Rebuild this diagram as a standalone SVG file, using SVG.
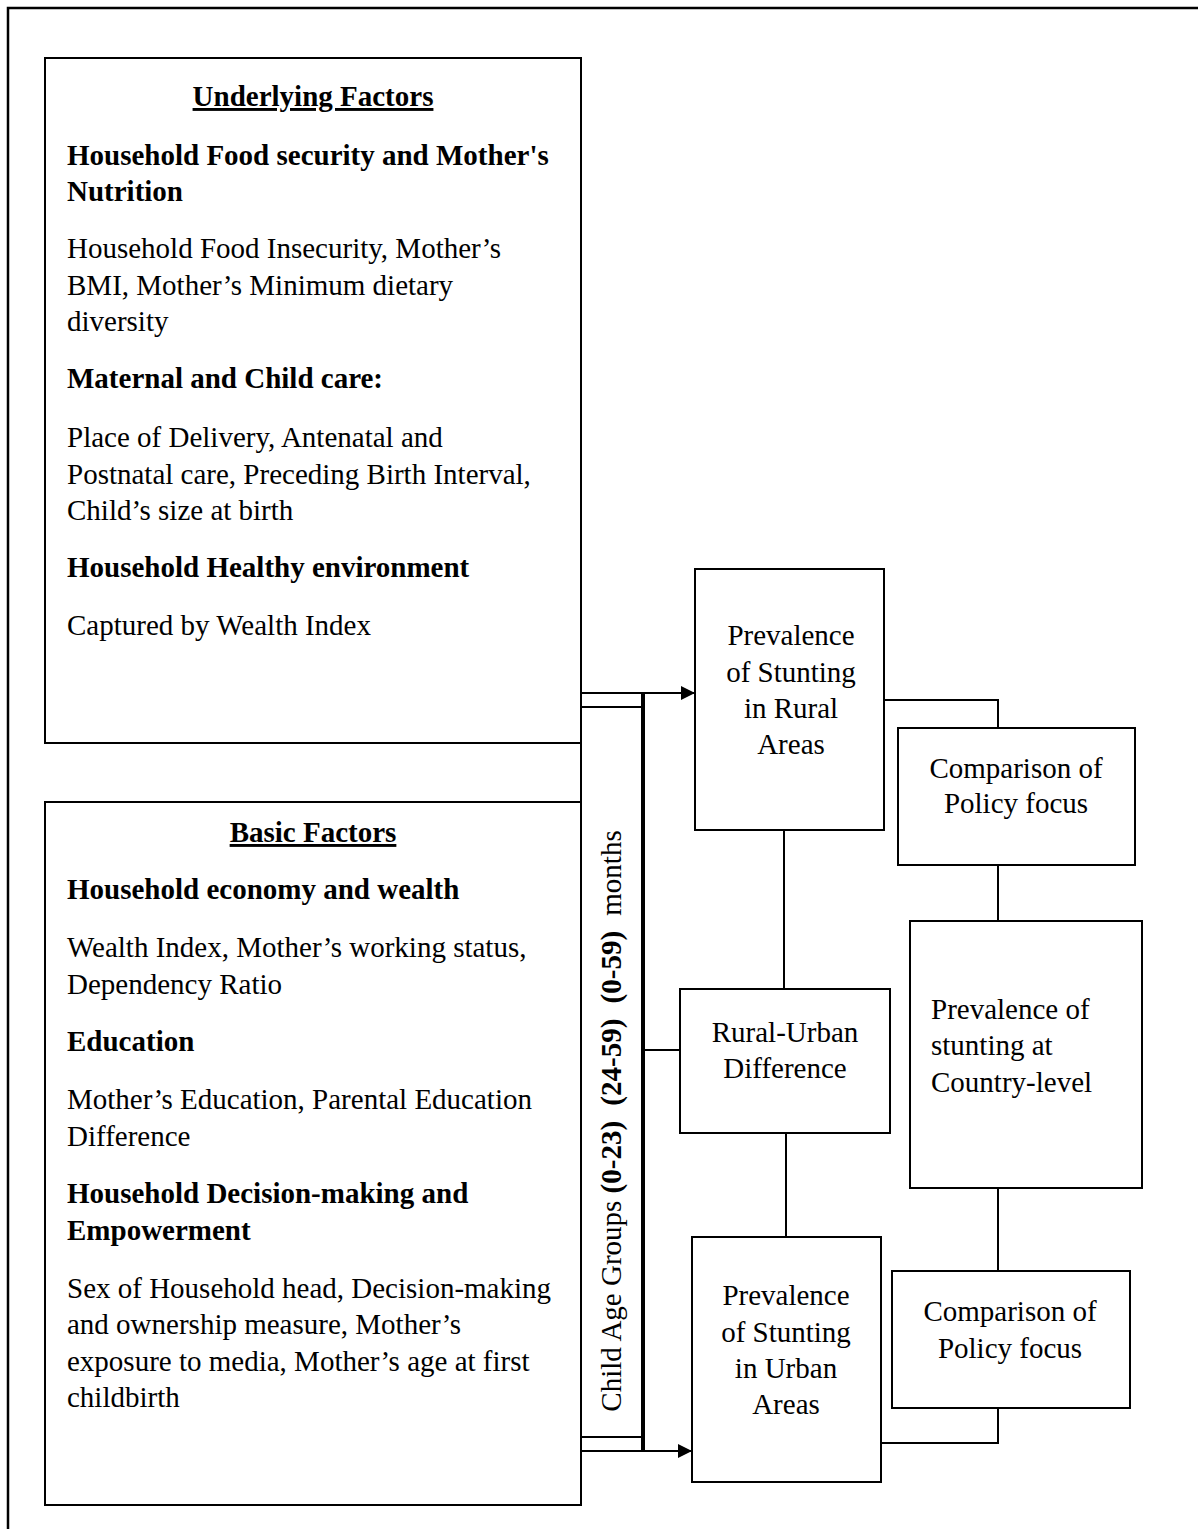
<svg xmlns="http://www.w3.org/2000/svg" width="1198" height="1529" viewBox="0 0 1198 1529">
<style>
text{font-family:"Liberation Serif","Times New Roman",serif;font-size:29px;fill:#000}
.b{font-weight:bold}
.c{text-anchor:middle}
.box{fill:none;stroke:#000;stroke-width:2}
.ln{fill:none;stroke:#000;stroke-width:2}
</style>
<defs>
<marker id="ah" markerWidth="14" markerHeight="14" refX="14" refY="7" orient="auto" markerUnits="userSpaceOnUse">
<path d="M0,0 L14,7 L0,14 Z" fill="#000"/>
</marker>
</defs>
<rect x="8" y="8" width="1300" height="1600" fill="none" stroke="#000" stroke-width="2.5"/>
<g id="connectors">
<line class="ln" x1="581" y1="58" x2="581" y2="1505"/>
<line class="ln" x1="581" y1="693" x2="695" y2="693" marker-end="url(#ah)"/>
<line class="ln" x1="581" y1="1451" x2="692" y2="1451" marker-end="url(#ah)"/>
<line x1="643" y1="692" x2="643" y2="1452" stroke="#000" stroke-width="4"/>
<line class="ln" x1="643" y1="1050" x2="680" y2="1050"/>
<line class="ln" x1="784" y1="830" x2="784" y2="989"/>
<line class="ln" x1="786" y1="1133" x2="786" y2="1237"/>
<polyline class="ln" points="884,700 998,700 998,728"/>
<line class="ln" x1="998" y1="865" x2="998" y2="921"/>
<line class="ln" x1="998" y1="1188" x2="998" y2="1271"/>
<polyline class="ln" points="998,1408 998,1443 881,1443"/>
</g>
<g id="underlying">
<rect class="box" x="45" y="58" width="536" height="685"/>
<text class="b c" x="313" y="106" text-decoration="underline">Underlying Factors</text>
<text class="b" x="67" y="165">Household Food security and Mother's</text>
<text class="b" x="67" y="201">Nutrition</text>
<text x="67" y="258">Household Food Insecurity, Mother’s</text>
<text x="67" y="295">BMI, Mother’s Minimum dietary</text>
<text x="67" y="331">diversity</text>
<text class="b" x="67" y="388">Maternal and Child care:</text>
<text x="67" y="447">Place of Delivery, Antenatal and</text>
<text x="67" y="484">Postnatal care, Preceding Birth Interval,</text>
<text x="67" y="520">Child’s size at birth</text>
<text class="b" x="67" y="577">Household Healthy environment</text>
<text x="67" y="635">Captured by Wealth Index</text>
</g>
<g id="basic">
<rect class="box" x="45" y="802" width="536" height="703"/>
<text class="b c" x="313" y="842" text-decoration="underline">Basic Factors</text>
<text class="b" x="67" y="899">Household economy and wealth</text>
<text x="67" y="957">Wealth Index, Mother’s working status,</text>
<text x="67" y="994">Dependency Ratio</text>
<text class="b" x="67" y="1051">Education</text>
<text x="67" y="1109">Mother’s Education, Parental Education</text>
<text x="67" y="1146">Difference</text>
<text class="b" x="67" y="1203">Household Decision-making and</text>
<text class="b" x="67" y="1240">Empowerment</text>
<text x="67" y="1298">Sex of Household head, Decision-making</text>
<text x="67" y="1334">and ownership measure, Mother’s</text>
<text x="67" y="1371">exposure to media, Mother’s age at first</text>
<text x="67" y="1407">childbirth</text>
</g>
<g id="agegroups">
<polyline class="ln" points="643,707 581,707 581,1437 643,1437"/>
<text class="c" transform="translate(621,1121) rotate(-90)">Child Age Groups <tspan class="b">(0-23)</tspan> <tspan class="b" dx="8">(24-59)</tspan> <tspan class="b" dx="8">(0-59)</tspan> <tspan dx="8">months</tspan></text>
</g>
<g id="rural">
<rect class="box" x="695" y="569" width="189" height="261"/>
<text class="c" x="791" y="645">Prevalence</text>
<text class="c" x="791" y="682">of Stunting</text>
<text class="c" x="791" y="718">in Rural</text>
<text class="c" x="791" y="754">Areas</text>
</g>
<g id="comparison1">
<rect class="box" x="898" y="728" width="237" height="137"/>
<text class="c" x="1016" y="778">Comparison of</text>
<text class="c" x="1016" y="813">Policy focus</text>
</g>
<g id="ruralurban">
<rect class="box" x="680" y="989" width="210" height="144"/>
<text class="c" x="785" y="1042">Rural-Urban</text>
<text class="c" x="785" y="1078">Difference</text>
</g>
<g id="country">
<rect class="box" x="910" y="921" width="232" height="267"/>
<text x="931" y="1019">Prevalence of</text>
<text x="931" y="1055">stunting at</text>
<text x="931" y="1092">Country-level</text>
</g>
<g id="urban">
<rect class="box" x="692" y="1237" width="189" height="245"/>
<text class="c" x="786" y="1305">Prevalence</text>
<text class="c" x="786" y="1342">of Stunting</text>
<text class="c" x="786" y="1378">in Urban</text>
<text class="c" x="786" y="1414">Areas</text>
</g>
<g id="comparison2">
<rect class="box" x="892" y="1271" width="238" height="137"/>
<text class="c" x="1010" y="1321">Comparison of</text>
<text class="c" x="1010" y="1358">Policy focus</text>
</g>
</svg>
